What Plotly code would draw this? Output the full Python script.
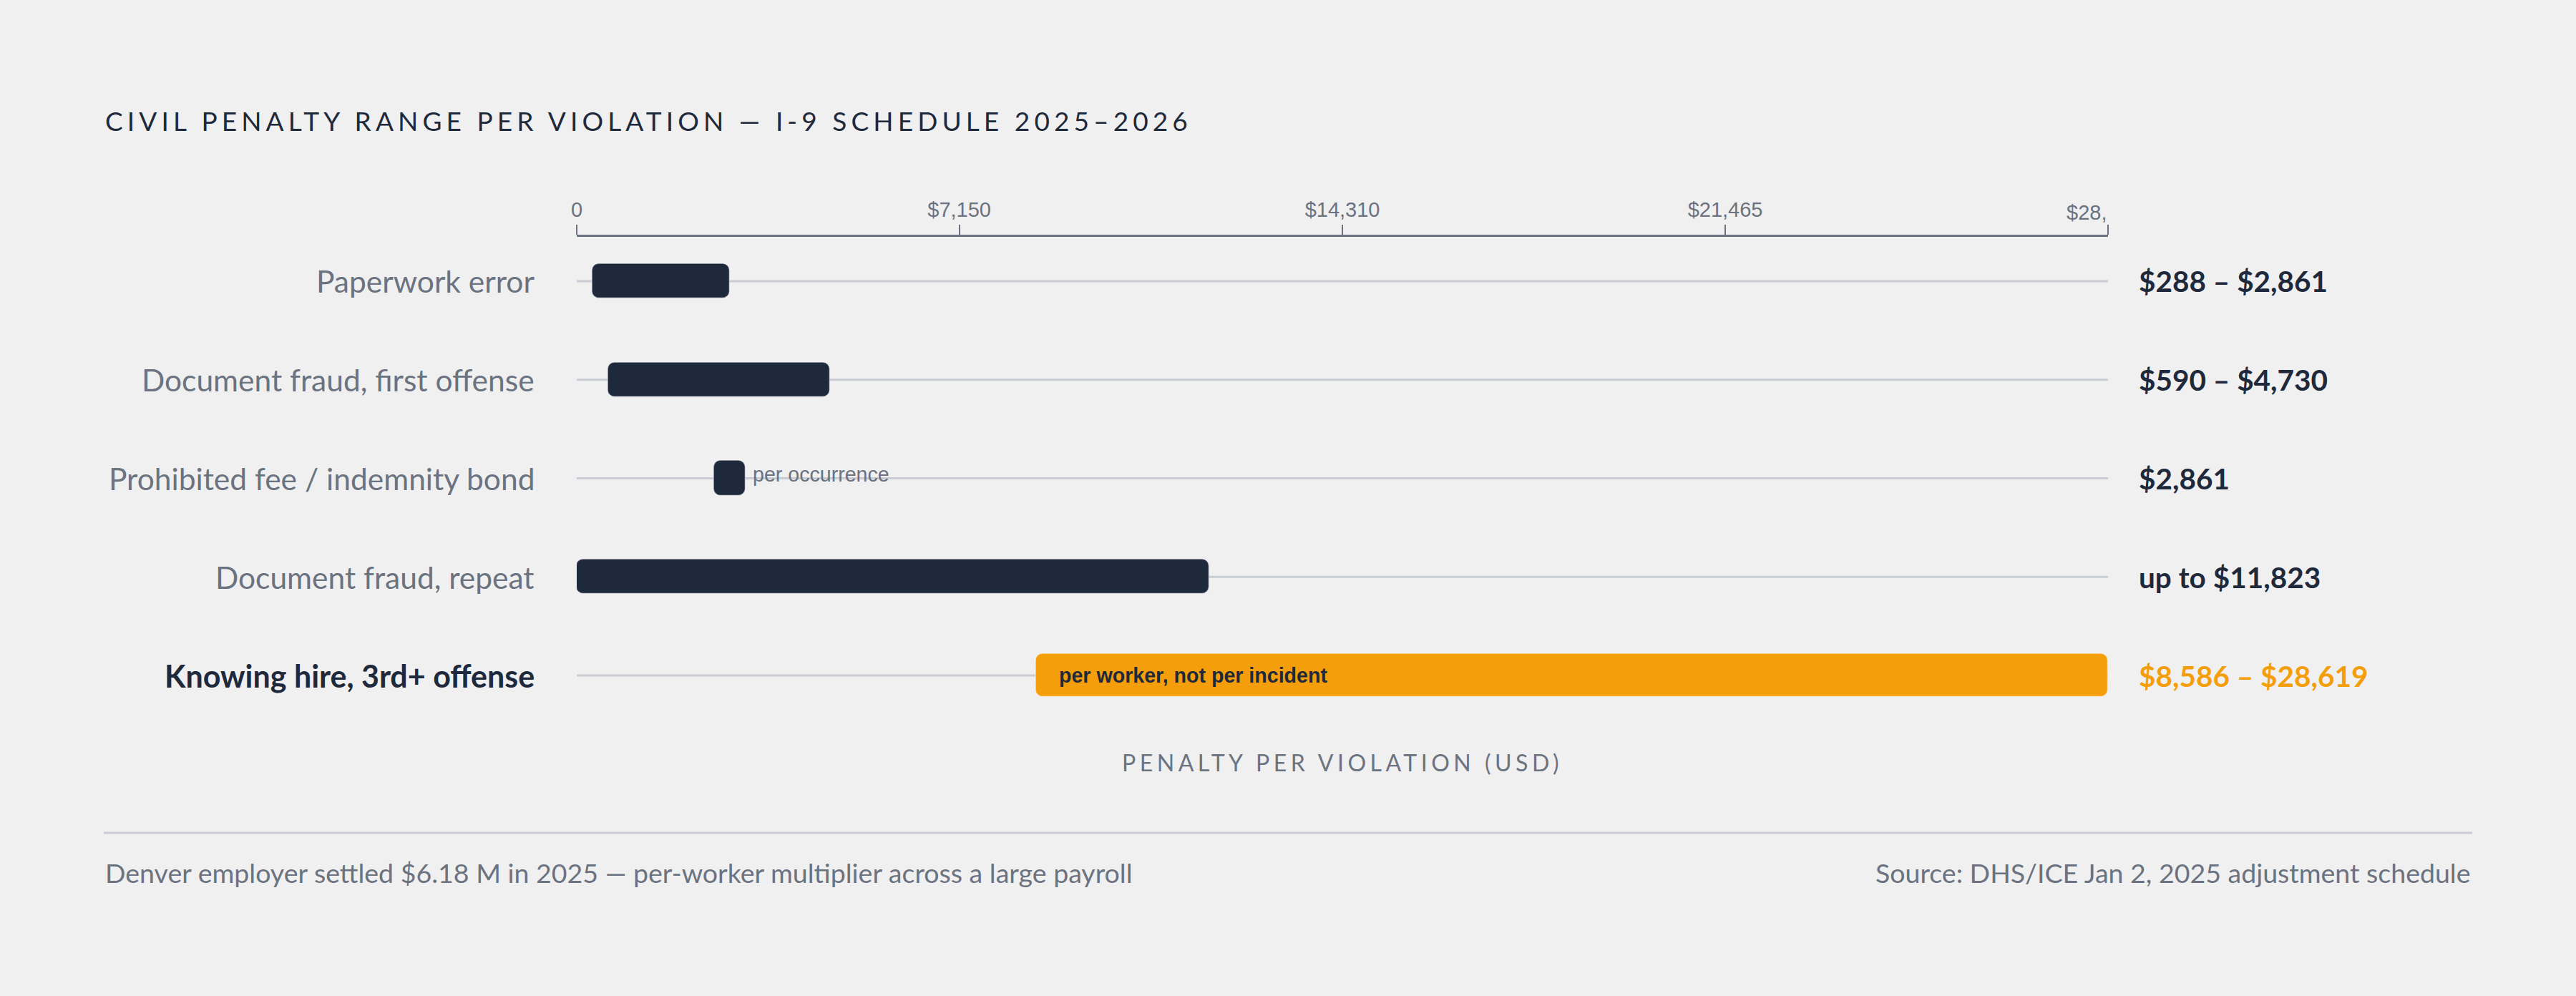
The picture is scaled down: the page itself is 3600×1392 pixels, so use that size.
import plotly.graph_objects as go

# ---------------- data ----------------
categories = [
    "Paperwork error",
    "Document fraud, first offense",
    "Prohibited fee / indemnity bond",
    "Document fraud, repeat",
    "Knowing hire, 3rd+ offense",
]
low_values = [288, 590, 2861, 0, 8586]
high_values = [2861, 4730, 2861, 11823, 28619]
value_labels = ["$288 – $2,861", "$590 – $4,730", "$2,861", "up to $11,823", "$8,586 – $28,619"]
highlight = [False, False, False, False, True]
inline_notes = ["", "", "per occurrence", "", "per worker, not per incident"]

axis_max = 28619
tick_values = [0, 7150, 14310, 21465, 28619]
tick_labels = ["0", "$7,150", "$14,310", "$21,465", "$28,"]

title_text = "CIVIL PENALTY RANGE PER VIOLATION — I-9 SCHEDULE 2025–2026"
axis_title = "PENALTY PER VIOLATION (USD)"
footer_left = "Denver employer settled $6.18 M in 2025 — per-worker multiplier across a large payroll"
footer_right = "Source: DHS/ICE Jan 2, 2025 adjustment schedule"

# ---------------- style ----------------
W, H = 3600, 1392
BG = "#f0f0f0"
DARK = "#1e293b"
GRAY = "#6b7280"
TRACK = "#c9cdd3"
ORANGE = "#f59e0b"
FONT = "Lato, 'DejaVu Sans', sans-serif"
TICKFONT = "'Liberation Sans', Arial, sans-serif"

PLOT_L, PLOT_R = 806, 2946
PLOT_T, PLOT_B = 331, 1006
plot_w = PLOT_R - PLOT_L
plot_h = PLOT_B - PLOT_T

def px_x(px):
    return (px - PLOT_L) / plot_w

def px_y(py):
    return (PLOT_B - py) / plot_h

n = len(categories)
ypos = list(range(n))
dark_h = 0.35
hi_h = 0.44
min_bar_px = 44
min_bar_data = min_bar_px * axis_max / plot_w

fig = go.Figure()

# tracks
for i in ypos:
    fig.add_shape(type="line", xref="x", yref="y", x0=0, x1=axis_max, y0=i, y1=i,
                  line=dict(color=TRACK, width=3), layer="below")

bases, widths, colors, heights = [], [], [], []
for lo, hi, hl in zip(low_values, high_values, highlight):
    if hi - lo < min_bar_data:
        c = (lo + hi) / 2
        bases.append(c - min_bar_data / 2)
        widths.append(min_bar_data)
    else:
        bases.append(lo)
        widths.append(hi - lo)
    colors.append(ORANGE if hl else DARK)
    heights.append(hi_h if hl else dark_h)

fig.add_trace(go.Bar(
    orientation="h", y=ypos, x=widths, base=bases, width=heights,
    marker=dict(color=colors, cornerradius=10,
                line=dict(color="rgba(255,255,255,0.35)", width=1.5)),
    hoverinfo="skip", showlegend=False,
))

annotations = []
# left category labels
for i, (cat, hl) in enumerate(zip(categories, highlight)):
    annotations.append(dict(
        text=f"<b>{cat}</b>" if hl else cat, xref="paper", yref="y",
        x=px_x(749), y=i, xanchor="right", yanchor="middle", showarrow=False,
        font=dict(family=FONT, size=43 if hl else 42.5, color=DARK if hl else GRAY)))
# right value labels
for i, (lab, hl) in enumerate(zip(value_labels, highlight)):
    annotations.append(dict(
        text=f"<b>{lab}</b>", xref="paper", yref="y",
        x=px_x(2987), y=i, xanchor="left", yanchor="middle", showarrow=False,
        font=dict(family=FONT, size=40.5, color=ORANGE if hl else DARK)))
# inline notes
for i, (note, hl) in enumerate(zip(inline_notes, highlight)):
    if not note:
        continue
    if hl:
        annotations.append(dict(
            text=f"<b>{note}</b>", xref="x", yref="y", x=low_values[i], y=i,
            xanchor="left", yanchor="middle", xshift=30, showarrow=False,
            font=dict(family=TICKFONT, size=28.6, color=DARK)))
    else:
        annotations.append(dict(
            text=note, xref="x", yref="y", x=high_values[i], y=i,
            xanchor="left", yanchor="middle", xshift=min_bar_px / 2 + 8, yshift=6,
            showarrow=False, font=dict(family=TICKFONT, size=28.6, color=GRAY)))
# truncated last tick label
annotations.append(dict(
    text=tick_labels[-1], xref="x", yref="paper", x=tick_values[-1], y=px_y(297),
    xanchor="right", yanchor="middle", showarrow=False,
    font=dict(family=TICKFONT, size=29, color=GRAY)))
# title
annotations.append(dict(
    text=f'<span style="letter-spacing:6.1px">{title_text}</span>', xref="paper", yref="paper",
    x=px_x(145), y=px_y(168), xanchor="left", yanchor="middle", showarrow=False,
    font=dict(family=FONT, size=37, color=DARK)))
# axis title
annotations.append(dict(
    text=f'<span style="letter-spacing:5.5px">{axis_title}</span>', xref="paper", yref="paper",
    x=0.5, y=px_y(1065), xanchor="center", yanchor="middle", showarrow=False,
    font=dict(family=FONT, size=32, color=GRAY)))
# footer
annotations.append(dict(
    text=footer_left, xref="paper", yref="paper", x=px_x(145), y=px_y(1219),
    xanchor="left", yanchor="middle", showarrow=False,
    font=dict(family=FONT, size=37.5, color=GRAY)))
annotations.append(dict(
    text=footer_right, xref="paper", yref="paper", x=px_x(3455), y=px_y(1219),
    xanchor="right", yanchor="middle", showarrow=False,
    font=dict(family=FONT, size=37.5, color=GRAY)))

# divider
fig.add_shape(type="line", xref="paper", yref="paper", x0=px_x(145), x1=px_x(3455),
              y0=px_y(1164), y1=px_y(1164), line=dict(color=TRACK, width=3))

fig.update_layout(
    width=W, height=H, paper_bgcolor=BG, plot_bgcolor=BG,
    margin=dict(l=PLOT_L, r=W - PLOT_R, t=PLOT_T, b=H - PLOT_B),
    annotations=annotations, bargap=0,
    xaxis=dict(range=[0, axis_max], side="top", showgrid=False, zeroline=False,
               showline=True, linecolor=GRAY, linewidth=2.5,
               ticks="outside", ticklen=14, tickwidth=2, tickcolor=GRAY,
               tickvals=tick_values, ticktext=tick_labels[:-1] + [""],
               tickfont=dict(family=TICKFONT, size=29, color=GRAY)),
    yaxis=dict(range=[n - 0.55, -0.45], showgrid=False, zeroline=False,
               showticklabels=False, showline=False),
)

fig.write_html(
    "out.html",
    config={"displayModeBar": False},
    post_script="document.body.style.margin='0';document.body.style.overflow='hidden';"
                "document.body.style.background='#f0f0f0';",
)
